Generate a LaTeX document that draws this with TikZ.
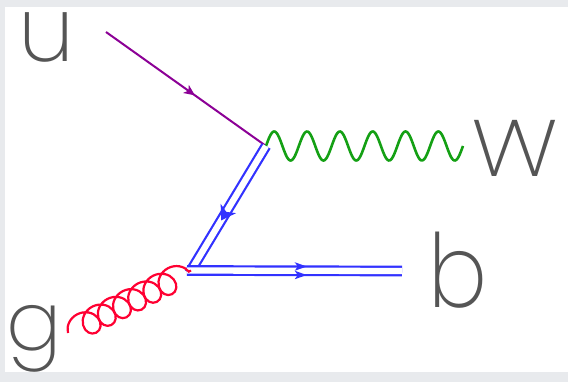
\documentclass[tikz,border=0pt]{standalone}
\usepackage{fontspec}
\IfFontExistsTF{Poppins ExtraLight}
  {\newfontfamily\lblfont{Poppins ExtraLight}}
  {\newfontfamily\lblfont{Poppins Light}}
\usetikzlibrary{decorations.pathmorphing,decorations.markings,arrows.meta}
\definecolor{framegray}{RGB}{232,234,237}
\definecolor{textgray}{RGB}{85,85,85}
\definecolor{upurple}{RGB}{140,0,150}
\definecolor{wgreen}{RGB}{20,160,20}
\definecolor{bblue}{RGB}{50,50,255}
\definecolor{gred}{RGB}{255,0,50}

\begin{document}
\begin{tikzpicture}[
  x=1pt, y=-1pt,
  fermion/.style={draw=upurple,line width=2pt},
  boson/.style={draw=wgreen,line width=2.6pt},
  bquark/.style={draw=bblue,line width=2.2pt,double=white,double distance=6.3pt},
  gluon/.style={draw=gred,line width=2.2pt,decorate,decoration={coil,amplitude=12.5pt,segment length=17pt,aspect=1}},
  lbl/.style={text=textgray,inner sep=0pt,anchor=base west,font=\lblfont},
  uarrow/.style={postaction={decorate,decoration={markings,mark=at position #1 with {\fill[upurple] (5pt,0) -- (-6pt,5pt) -- (-3pt,0) -- (-6pt,-5pt) -- cycle;}}}},
  diagarrow/.style={postaction={decorate,decoration={markings,mark=at position #1 with {\fill[bblue] (7pt,0) -- (-7pt,9pt) -- (-3pt,0) -- (-7pt,-9pt) -- cycle;}}}},
  horizarrow/.style={postaction={decorate,decoration={markings,mark=at position #1 with {
      \fill[bblue] (6pt,4.25pt) -- (-6pt,8.5pt) -- (-3pt,4.25pt) -- (-6pt,0pt) -- cycle;
      \fill[bblue] (6pt,-4.25pt) -- (-6pt,0pt) -- (-3pt,-4.25pt) -- (-6pt,-8.5pt) -- cycle;}}}}
]
  \useasboundingbox (0,0) rectangle (568,382);
  \fill[framegray] (0,0) rectangle (568,382);
  \fill[white] (5,7) rectangle (568,372);

  \coordinate (qin) at (106,32);
  \coordinate (vtop) at (266,146);
  \coordinate (vbot) at (191,270.5);
  \coordinate (bout) at (402,271);
  \coordinate (gin) at (68,333);

  \draw[fermion,uarrow=0.53] (qin) -- (vtop);
  % W line: six full waves
  \draw[boson,shift={(vtop)}] plot[domain=0:197,samples=200,smooth] (\x,{-14.5*sin(\x*10.9656)});
  \draw[bquark,shorten >=-3pt] (vtop) -- (vbot);
  \path[diagarrow=0.55] (vtop) -- (vbot);
  \draw[bquark,shorten <=-4pt] (vbot) -- (bout);
  \path[horizarrow=0.52] (vbot) -- (bout);
  \draw[gluon] (gin) -- (vbot);

  \node[lbl,font=\lblfont\fontsize{90}{90}\selectfont] (lu) at (18,62) {u};
  \node[lbl,font=\lblfont\fontsize{80}{80}\selectfont\addfontfeatures{FakeStretch=1.17}] (lW) at (471,177) {W};
  \node[lbl,font=\lblfont\fontsize{102}{102}\selectfont\addfontfeatures{FakeStretch=0.86}] (lb) at (428,308) {b};
  \node[lbl,font=\lblfont\fontsize{82}{82}\selectfont] (lg) at (6,350) {g};
\end{tikzpicture}
\end{document}
